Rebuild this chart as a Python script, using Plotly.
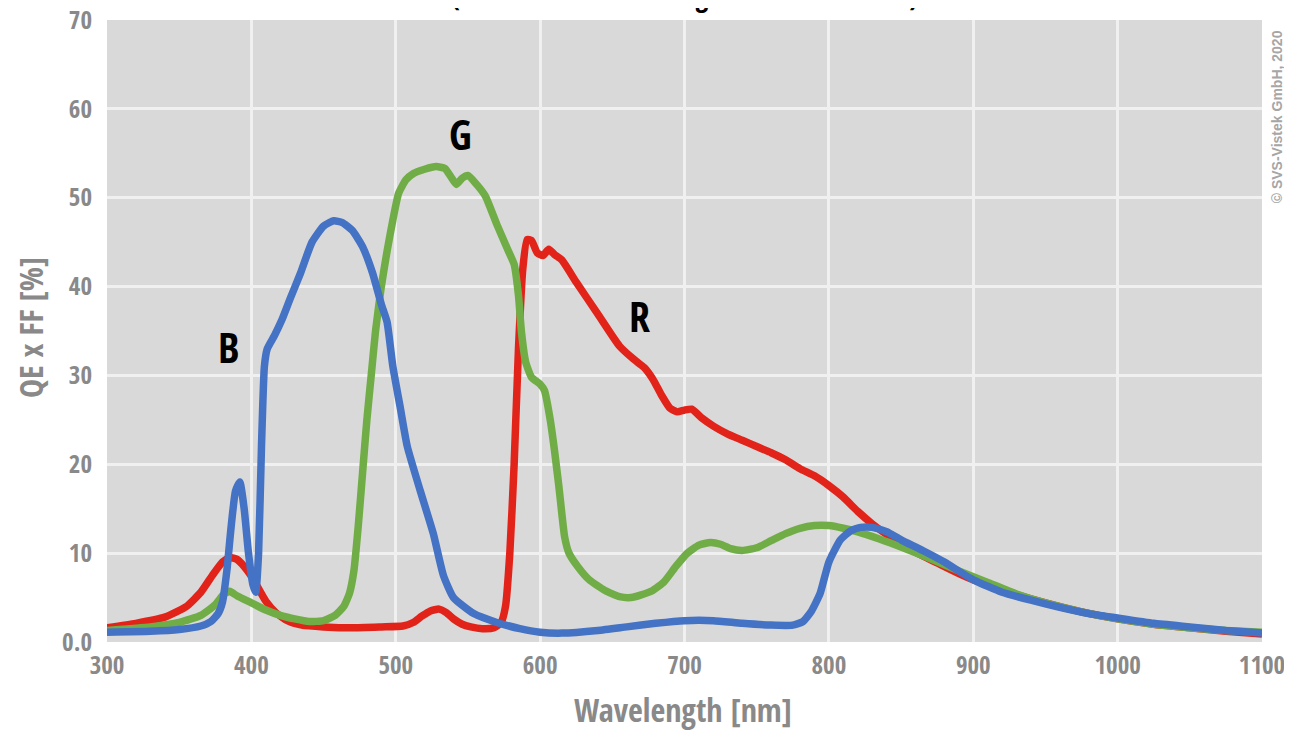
import plotly.graph_objects as go

# ---------------- data ----------------
blue_x = [300, 330, 350, 365, 372, 377, 380, 383, 386, 389, 392, 395, 398, 401, 403, 405, 407, 409, 411,
          416, 421, 427, 434, 442, 450, 457, 463, 470, 477, 484, 490, 494, 498, 503, 508, 517, 526, 533,
          540, 554, 570, 586, 600, 615, 640, 660, 680, 700, 720, 740, 760, 775, 782, 788, 794, 800, 808,
          815, 822, 830, 840, 850, 865, 880, 900, 920, 940, 960, 980, 1000, 1025, 1050, 1075, 1100]
blue_y = [1.1, 1.2, 1.4, 1.8, 2.3, 3.2, 4.5, 8, 13, 17, 18, 15, 10, 6.5, 5.6, 10, 22, 31, 33,
          34.5, 36.2, 38.7, 41.5, 45, 46.8, 47.4, 47.2, 46.3, 44.5, 41.5, 38, 36, 31, 26.5, 22, 17, 12.2, 7.5,
          5, 3.2, 2.2, 1.5, 1.1, 1.0, 1.3, 1.7, 2.1, 2.4, 2.4, 2.1, 1.9, 1.9, 2.3, 3.5, 5.5, 9, 11.5,
          12.5, 12.9, 12.9, 12.4, 11.5, 10.3, 9.0, 7.0, 5.6, 4.7, 3.9, 3.2, 2.7, 2.1, 1.7, 1.3, 1.0]

red_x = [300, 320, 340, 355, 365, 373, 380, 385, 390, 395, 400, 405, 410, 417, 425, 435, 450, 470, 490,
         505, 512, 518, 524, 530, 535, 540, 546, 552, 560, 568, 573, 576, 579, 582, 585, 588, 591, 594,
         598, 602, 606, 610, 615, 625, 640, 655, 665, 672, 678, 684, 690, 695, 700, 705, 712, 720, 730,
         740, 750, 760, 770, 780, 790, 800, 810, 820, 830, 840, 850, 860, 875, 890, 900, 925, 950, 975,
         1000, 1025, 1050, 1075, 1100]
red_y = [1.6, 2.1, 2.8, 4.0, 5.6, 7.5, 9.0, 9.5, 9.3, 8.5, 7.4, 6.0, 4.6, 3.3, 2.4, 1.9, 1.7, 1.6, 1.7,
         1.8, 2.2, 2.9, 3.5, 3.7, 3.3, 2.6, 2.0, 1.7, 1.5, 1.6, 2.2, 4, 10, 20, 33, 42, 45.3, 45.2,
         43.8, 43.5, 44.2, 43.6, 43.0, 40.5, 36.9, 33.3, 31.8, 30.9, 29.6, 27.8, 26.3, 25.9, 26.1, 26.2, 25.2, 24.3, 23.4,
         22.7, 22.0, 21.3, 20.5, 19.5, 18.7, 17.6, 16.3, 14.7, 13.3, 12.1, 11.1, 10.1, 8.9, 7.7, 7.0, 5.6, 4.4, 3.4,
         2.6, 2.0, 1.6, 1.2, 0.9]

green_x = [300, 330, 350, 365, 375, 381, 385, 390, 400, 410, 420, 430, 440, 450, 458, 464, 468, 471, 474,
           477, 480, 483, 486, 490, 494, 498, 502, 507, 512, 520, 528, 534, 538, 542, 546, 550, 556, 562,
           570, 578, 582, 585, 587, 590, 594, 600, 603, 607, 610, 613, 617, 620, 626, 634, 645, 655, 663,
           670, 678, 686, 694, 702, 710, 718, 725, 732, 740, 750, 760, 770, 780, 790, 800, 810, 820, 835,
           850, 870, 890, 910, 930, 950, 975, 1000, 1025, 1050, 1075, 1100]
green_y = [1.3, 1.7, 2.2, 3.0, 4.2, 5.4, 5.7, 5.2, 4.4, 3.6, 3.0, 2.6, 2.3, 2.4, 3.0, 4.0, 5.5, 8, 13,
           19, 25, 30, 35, 40, 44, 47.5, 50.5, 52, 52.7, 53.2, 53.5, 53.3, 52.4, 51.5, 52.2, 52.5, 51.5, 50.2,
           47, 44, 42.5, 39, 35, 31.5, 29.8, 29.0, 28.3, 25, 21.5, 17.5, 11.8, 10, 8.5, 7.0, 5.8, 5.1, 5.0,
           5.3, 5.8, 6.8, 8.5, 10.0, 10.9, 11.2, 11.0, 10.5, 10.3, 10.6, 11.4, 12.2, 12.8, 13.1, 13.1, 12.8, 12.4, 11.6,
           10.7, 9.4, 8.0, 6.7, 5.4, 4.4, 3.4, 2.6, 2.0, 1.6, 1.3, 1.1]

x_ticks = [300, 400, 500, 600, 700, 800, 900, 1000, 1100]
y_ticks = [0, 10, 20, 30, 40, 50, 60, 70]
y_tick_labels = ["0.0", "10", "20", "30", "40", "50", "60", "70"]

curve_labels = ["B", "G", "R"]
label_x = [384, 545, 669]
label_y = [33.3, 57.2, 36.7]

RED = "#E2231A"
GREEN = "#70AD47"
BLUE = "#4472C4"
COND = "Open Sans Condensed, DejaVu Sans Condensed, sans-serif"
GRAY = "#898989"

fig = go.Figure()
for xs, ys, col, name in [(red_x, red_y, RED, "R"), (green_x, green_y, GREEN, "G"), (blue_x, blue_y, BLUE, "B")]:
    fig.add_trace(go.Scatter(x=xs, y=ys, mode="lines", name=name,
                             line=dict(color=col, width=7.5, shape="spline", smoothing=0.5),
                             hoverinfo="x+y"))

for t, lx, ly in zip(curve_labels, label_x, label_y):
    fig.add_annotation(x=lx, y=ly, xref="x", yref="y", text=t, showarrow=False,
                       font=dict(family=COND, size=42, color="#000000"))

# partially visible title at the very top
fig.add_annotation(x=0.5, xref="paper", y=1.0072, yref="paper", yanchor="bottom", xanchor="center",
                   text="(at 25 °C and without glass or IR cut filter)", showarrow=False,
                   font=dict(family=COND, size=28, color="#000000"))

# axis titles
fig.add_annotation(x=0.4987, xref="paper", y=-0.1093, yref="paper", xanchor="center", yanchor="middle",
                   text="Wavelength [nm]", showarrow=False,
                   font=dict(family=COND, size=32, color=GRAY))
fig.add_annotation(x=-0.0667, xref="paper", y=0.5064, yref="paper", xanchor="center", yanchor="middle",
                   text="QE x FF [%]", textangle=-90, showarrow=False,
                   font=dict(family=COND, size=32, color=GRAY))

# copyright note on the right
fig.add_annotation(x=1.0132, xref="paper", y=0.844, yref="paper", xanchor="center", yanchor="middle",
                   text="<b>© SVS-Vistek GmbH, 2020</b>", textangle=-90, showarrow=False,
                   font=dict(family="Liberation Sans, Arial, sans-serif", size=14, color="#A6A6A6"))

# page body has an 8px offset, margins compensate
fig.update_layout(
    width=1292, height=740,
    margin=dict(l=99, r=38, t=12, b=106, autoexpand=False),
    paper_bgcolor="#FFFFFF",
    plot_bgcolor="#D9D9D9",
    showlegend=False,
    font=dict(family=COND, color=GRAY),
)
fig.update_xaxes(range=[300, 1100], tickvals=x_ticks, ticktext=[str(v) for v in x_ticks],
                 showgrid=True, gridcolor="#F0F0F0", gridwidth=3, zeroline=False, showline=False,
                 ticks="outside", ticklen=1, tickcolor="rgba(0,0,0,0)", automargin=False,
                 ticklabeloverflow="allow",
                 tickfont=dict(family=COND, size=25, color=GRAY))
fig.update_yaxes(range=[0, 70], tickvals=y_ticks, ticktext=y_tick_labels,
                 showgrid=True, gridcolor="#F0F0F0", gridwidth=3, zeroline=False, showline=False,
                 ticks="outside", ticklen=9, tickcolor="rgba(0,0,0,0)", automargin=False,
                 ticklabeloverflow="allow",
                 tickfont=dict(family=COND, size=25, color=GRAY))

fig.write_html("out.html")
